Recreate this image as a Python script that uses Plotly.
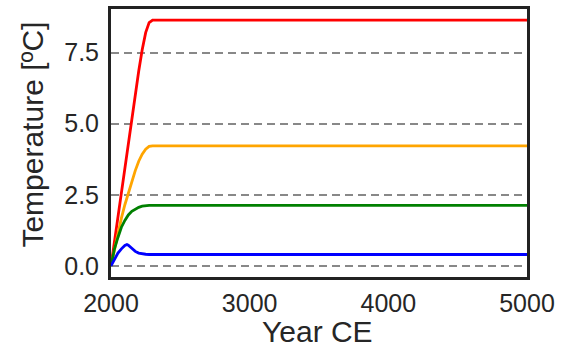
import plotly.graph_objects as go

# ---- data ----
years = [2000, 2025, 2050, 2075, 2100, 2115, 2125, 2150, 2175, 2200, 2225, 2250, 2275, 2300, 5000]
red_vals = [0.0, 0.88, 1.75, 2.62, 3.5, 4.02, 4.37, 5.22, 6.05, 6.85, 7.6, 8.2, 8.55, 8.64, 8.64]
orange_vals = [0.0, 0.6, 1.15, 1.68, 2.15, 2.4, 2.57, 2.97, 3.35, 3.68, 3.93, 4.1, 4.2, 4.22, 4.22]
green_vals = [0.0, 0.6, 1.0, 1.36, 1.6, 1.72, 1.79, 1.92, 2.0, 2.06, 2.1, 2.12, 2.13, 2.13, 2.13]
blue_vals = [0.0, 0.25, 0.45, 0.6, 0.72, 0.75, 0.73, 0.62, 0.51, 0.45, 0.42, 0.41, 0.4, 0.4, 0.4]

x_ticks = [2000, 3000, 4000, 5000]
x_tick_labels = ["2000", "3000", "4000", "5000"]
y_ticks = [0.0, 2.5, 5.0, 7.5]
y_tick_labels = ["0.0", "2.5", "5.0", "7.5"]

x_title = "Year CE"
y_title = "Temperature [ºC]"

series = [
    (red_vals, "#ff0000"),
    (orange_vals, "#ffa500"),
    (green_vals, "#008000"),
    (blue_vals, "#0000ff"),
]

# ---- layout constants ----
W, H = 570, 351
L, R, T, B = 111, 43, 6, 74
PW, PH = W - L - R, H - T - B
FONT = "Liberation Sans, Arial, sans-serif"
TXT = "#262626"


def px_to_paper(px, py):
    return (px - L) / PW, ((H - B) - py) / PH


fig = go.Figure()
for vals, col in series:
    fig.add_trace(go.Scatter(x=years, y=vals, mode="lines",
                             line=dict(color=col, width=2.8), showlegend=False))

fig.update_layout(
    width=W, height=H,
    margin=dict(l=L, r=R, t=T, b=B),
    paper_bgcolor="white", plot_bgcolor="white",
    font=dict(family=FONT, color=TXT),
)
fig.update_xaxes(
    range=[2000, 5000], tickvals=x_ticks, ticktext=x_tick_labels,
    showgrid=False, zeroline=False,
    showline=True, mirror=True, linecolor="#222222", linewidth=3,
    ticks="", tickfont=dict(size=25, color=TXT, family=FONT),
    ticklabelstandoff=2,
)
fig.update_yaxes(
    range=[-0.39, 9.03], tickvals=y_ticks, ticktext=y_tick_labels,
    showgrid=True, gridcolor="#888888", gridwidth=2, griddash="8px,5px",
    zeroline=False,
    showline=True, mirror=True, linecolor="#222222", linewidth=3,
    ticks="", tickfont=dict(size=25, color=TXT, family=FONT),
    ticklabelstandoff=4,
)

ax, ay = px_to_paper(317.5, 332)
fig.add_annotation(text=x_title, x=ax, y=ay, xref="paper", yref="paper",
                   xanchor="center", yanchor="middle", showarrow=False,
                   font=dict(size=30, color=TXT, family=FONT))
bx, by = px_to_paper(33, 133)
fig.add_annotation(text=y_title, x=bx, y=by, xref="paper", yref="paper",
                   xanchor="center", yanchor="middle", showarrow=False,
                   textangle=-90,
                   font=dict(size=30, color=TXT, family=FONT))

fig.write_html(
    "out.html",
    config={"displayModeBar": False},
    post_script="document.body.style.margin='0';document.body.style.overflow='hidden';",
)
